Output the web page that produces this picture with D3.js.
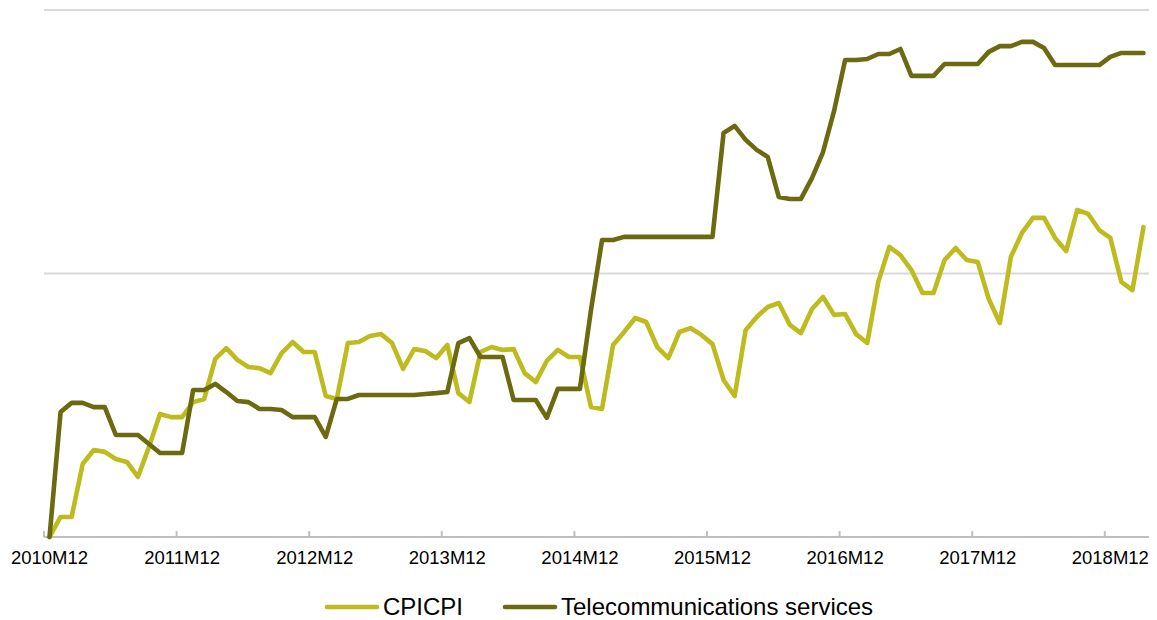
<!DOCTYPE html>
<html>
<meta charset="utf-8">
<style>
body {
	margin: 0;
	font-family: "Liberation Sans", Arial, sans-serif;
	background: #fff;
}
.grid line {
	stroke: #d9d9d9;
	stroke-width: 2;
}
.xaxis path {
	display: none;
}
.xaxis text {
	font-size: 18.5px;
	fill: #000;
}
</style>
<body>
<script src="https://d3js.org/d3.v7.min.js"></script>
<script>
// monthly categories, 2010M12 .. 2019M03
var months = [];
for (var k = 0; k < 100; k++) {
  var m = (11 + k) % 12 + 1, yr = 2010 + Math.floor((11 + k) / 12);
  months.push(yr + "M" + (m < 10 ? "0" + m : m));
}

var tickLabels = ["2010M12", "2011M12", "2012M12", "2013M12", "2014M12",
                  "2015M12", "2016M12", "2017M12", "2018M12"];

var gridValues = [10, 20];

var cpi = [0, 0.76, 0.76, 2.77, 3.30, 3.23, 2.96, 2.85, 2.28, 3.42,
  4.67, 4.55, 4.55, 5.12, 5.24, 6.76, 7.17, 6.72, 6.45, 6.41,
  6.22, 6.98, 7.40, 7.02, 7.02, 5.35, 5.24, 7.36, 7.40, 7.63,
  7.70, 7.36, 6.38, 7.13, 7.06, 6.79, 7.29, 5.46, 5.12, 7.02,
  7.21, 7.10, 7.13, 6.22, 5.88, 6.68, 7.10, 6.83, 6.83, 4.93,
  4.86, 7.29, 7.78, 8.31, 8.16, 7.21, 6.79, 7.78, 7.93, 7.67,
  7.32, 5.96, 5.35, 7.86, 8.35, 8.73, 8.88, 8.05, 7.74, 8.65,
  9.11, 8.43, 8.46, 7.70, 7.36, 9.68, 11.01, 10.70, 10.13, 9.26,
  9.26, 10.51, 10.97, 10.51, 10.44, 9.03, 8.12, 10.63, 11.54, 12.11,
  12.11, 11.35, 10.85, 12.41, 12.26, 11.65, 11.35, 9.68, 9.37, 11.76];

var telecom = [0, 4.74, 5.09, 5.09, 4.93, 4.93, 3.87, 3.87, 3.87, 3.53,
  3.19, 3.19, 3.19, 5.58, 5.58, 5.81, 5.50, 5.16, 5.12, 4.86,
  4.86, 4.82, 4.55, 4.55, 4.55, 3.80, 5.24, 5.24, 5.39, 5.39,
  5.39, 5.39, 5.39, 5.39, 5.43, 5.46, 5.50, 7.36, 7.55, 6.83,
  6.83, 6.83, 5.20, 5.20, 5.20, 4.52, 5.62, 5.62, 5.62, 8.61,
  11.27, 11.27, 11.39, 11.39, 11.39, 11.39, 11.39, 11.39, 11.39, 11.39,
  11.39, 15.33, 15.60, 15.07, 14.69, 14.42, 12.90, 12.83, 12.83, 13.62,
  14.61, 16.17, 18.10, 18.10, 18.14, 18.33, 18.33, 18.52, 17.50, 17.50,
  17.50, 17.95, 17.95, 17.95, 17.95, 18.41, 18.63, 18.63, 18.79, 18.79,
  18.56, 17.91, 17.91, 17.91, 17.91, 17.91, 18.22, 18.37, 18.37, 18.37];

var series = [
  {name: "CPICPI", values: cpi, color: "#bdbb1e"},
  {name: "Telecommunications services", values: telecom, color: "#6b6a10"}
];

var width = 1157, height = 620;

var svg = d3.select("body").append("svg")
    .attr("width", width)
    .attr("height", height);

var x = d3.scaleBand().domain(months).range([44, 1149]).padding(0);
var y = d3.scaleLinear().domain([0, 20]).range([537, 10]);
var cx = function(d, i) { return x(months[i]) + x.bandwidth() / 2; };

// gridlines
svg.append("g").attr("class", "grid")
  .selectAll("line")
  .data(gridValues)
  .enter().append("line")
    .attr("x1", 44).attr("x2", 1149)
    .attr("y1", function(d) { return y(d); })
    .attr("y2", function(d) { return y(d); });

// x axis line + ticks at category boundaries
svg.append("line")
    .attr("x1", 44).attr("x2", 1149)
    .attr("y1", y(0)).attr("y2", y(0))
    .style("stroke", "#bfbfbf").style("stroke-width", 2);

svg.selectAll(".btick")
  .data(tickLabels)
  .enter().append("line")
    .attr("class", "btick")
    .attr("x1", function(d) { return x(d); })
    .attr("x2", function(d) { return x(d); })
    .attr("y1", y(0) - 6).attr("y2", y(0))
    .style("stroke", "#bfbfbf").style("stroke-width", 2);

// labels at category centres
svg.append("g")
    .attr("class", "xaxis")
    .attr("transform", "translate(0," + y(0) + ")")
    .call(d3.axisBottom(x).tickValues(tickLabels).tickSize(0).tickPadding(14));

// lines
var line = d3.line()
    .x(cx)
    .y(function(d) { return y(d); });

svg.selectAll(".series")
  .data(series)
  .enter().append("path")
    .attr("class", "series")
    .attr("d", function(s) { return line(s.values); })
    .style("fill", "none")
    .style("stroke", function(s) { return s.color; })
    .style("stroke-width", 4.6)
    .style("stroke-linejoin", "round")
    .style("stroke-linecap", "round");

// legend
var legendX = [327, 505];
var legend = svg.selectAll(".legend")
    .data(series)
  .enter().append("g")
    .attr("class", "legend")
    .attr("transform", function(d, i) { return "translate(" + legendX[i] + ",607)"; });

legend.append("line")
    .attr("x1", 0).attr("x2", 50)
    .style("stroke", function(d) { return d.color; })
    .style("stroke-width", 4.6)
    .style("stroke-linecap", "round");

legend.append("text")
    .attr("x", 56)
    .attr("y", 8)
    .style("font-size", "24px")
    .style("fill", "#000")
    .text(function(d) { return d.name; });
</script>
</body>
</html>
